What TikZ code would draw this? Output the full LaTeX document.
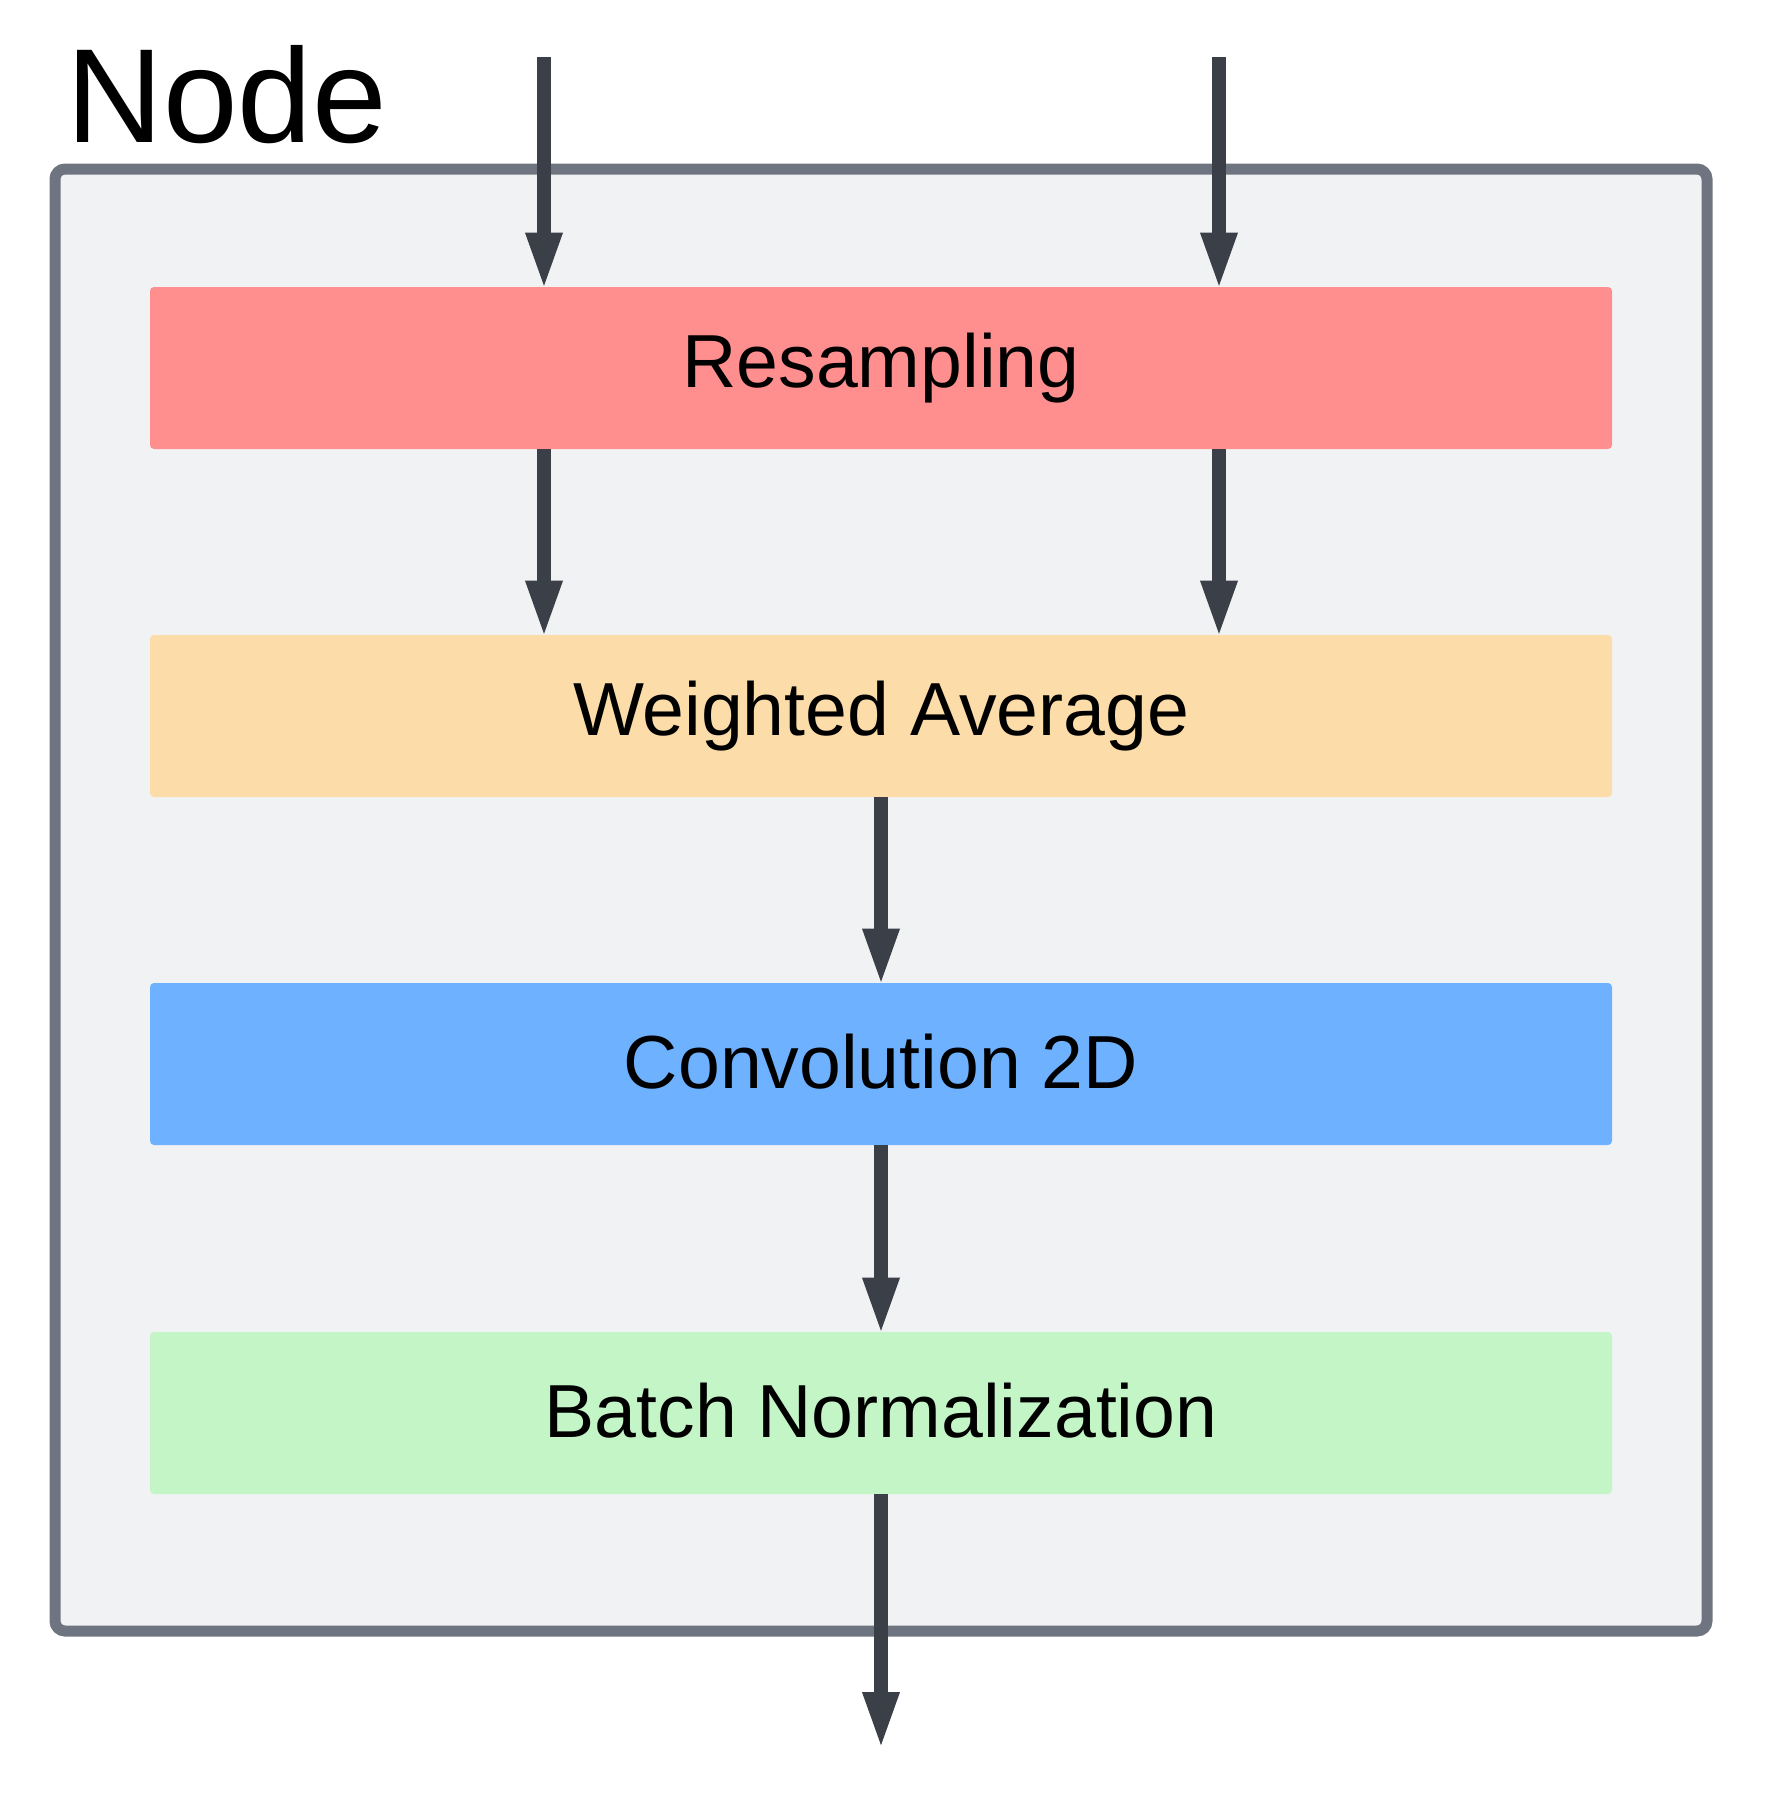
\documentclass[tikz,border=0pt]{standalone}
\usepackage{fontspec}
\setmainfont{Liberation Sans}
\usetikzlibrary{arrows.meta}
\definecolor{bgc}{HTML}{F1F2F4}
\definecolor{borderc}{HTML}{6F7580}
\definecolor{arrc}{HTML}{3A3F48}
\definecolor{resc}{HTML}{FF8E8E}
\definecolor{wac}{HTML}{FCDCA8}
\definecolor{convc}{HTML}{6DB1FF}
\definecolor{bnc}{HTML}{C3F5C6}
\newcommand{\lift}[1]{\raisebox{2.3pt}{#1}}
\tikzset{
  layerbox/.style={rectangle, rounded corners=2pt, minimum width=731pt, minimum height=81pt, inner sep=0pt, font=\fontsize{37.6}{45}\selectfont, text=black},
  flow/.style={draw=arrc, line width=7pt, shorten >=-2pt, -{Triangle[length=29pt, width=16.5pt]}},
}
\begin{document}
\begin{tikzpicture}[x=0.5pt, y=-0.5pt]
\path[use as bounding box] (0,0) rectangle (1781,1795);
\node[draw=borderc, fill=bgc, line width=5.5pt, rounded corners=5pt, minimum width=826pt, minimum height=731pt, inner sep=0pt] (frame) at (881,900) {};
\node[anchor=base west, font=\fontsize{67}{80}\selectfont, inner sep=0pt] (title) at (66,142) {Node};
\node[layerbox, fill=resc] (res) at (881,368) {\lift{Resampling}};
\node[layerbox, fill=wac] (wa) at (881,716) {\lift{Weighted Average}};
\node[layerbox, fill=convc] (conv) at (881,1064) {\lift{Convolution 2D}};
\node[layerbox, fill=bnc] (bn) at (881,1413) {\lift{Batch Normalization}};
\coordinate (in1) at (544,57);
\coordinate (in2) at (1219,57);
\coordinate (out) at (881,1746);
\draw[flow] (in1) -- (in1 |- res.north);
\draw[flow] (in2) -- (in2 |- res.north);
\draw[flow] (res.south -| in1) -- (wa.north -| in1);
\draw[flow] (res.south -| in2) -- (wa.north -| in2);
\draw[flow] (wa.south) -- (conv.north);
\draw[flow] (conv.south) -- (bn.north);
\draw[flow] (bn.south) -- (out);
\end{tikzpicture}
\end{document}
